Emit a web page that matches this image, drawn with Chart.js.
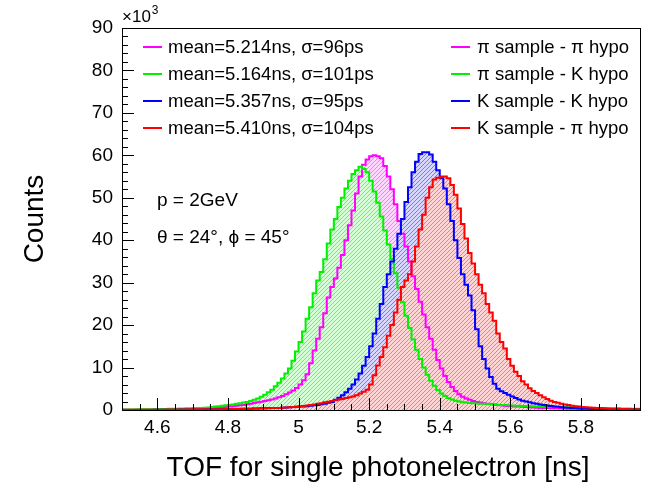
<!DOCTYPE html>
<html>
<head>
<meta charset="utf-8">
<script src="https://cdn.jsdelivr.net/npm/chart.js@4.4.0/dist/chart.umd.min.js"></script>
<style>
  html, body { margin: 0; padding: 0; background: #fff; }
</style>
</head>
<body>
<canvas id="tofChart" width="649" height="496"></canvas>
<script>
// histogram: 0.01 ns bins starting at 4.50 ns, counts in units of 10^3
const binStart = 4.5;
const binWidth = 0.01;
const xMax = 5.97;

const xTicks = [4.6, 4.8, 5.0, 5.2, 5.4, 5.6, 5.8];

const piPiHypo = [
  0.05,0.05,0.05,0.05,0.05,0.1,0.1,0.1,0.1,0.1,
  0.1,0.1,0.15,0.15,0.15,0.15,0.2,0.2,0.2,0.25,
  0.25,0.3,0.3,0.35,0.4,0.45,0.5,0.55,0.6,0.7,
  0.8,0.9,1.0,1.1,1.2,1.35,1.5,1.65,1.8,1.95,
  2.1,2.3,2.5,2.7,3.0,3.3,3.7,4.1,4.6,5.2,
  6.0,7.0,8.4,11.0,14.0,16.8,19.5,22.8,26.5,29.0,
  31.0,33.5,36.5,40.0,43.5,47.0,51.0,55.0,57.8,59.0,
  59.8,60.0,59.8,59.3,57.5,55.0,52.0,48.5,44.5,41.5,
  38.5,35.0,31.5,28.5,25.5,22.5,19.5,16.8,14.2,11.8,
  9.8,8.0,6.6,5.4,4.5,3.7,3.1,2.7,2.4,2.1,
  1.9,1.75,1.6,1.5,1.4,1.3,1.2,1.1,1.0,0.95,
  0.9,0.85,0.8,0.75,0.7,0.65,0.6,0.55,0.5,0.5,
  0.45,0.45,0.4,0.4,0.35,0.35,0.3,0.3,0.3,0.25,
  0.25,0.25,0.2,0.2,0.2,0.2,0.15,0.15,0.15,0.15,
  0.1,0.1,0.1,0.1,0.1,0.1,0.1
];

const piKHypo = [
  0.1,0.1,0.1,0.1,0.15,0.15,0.15,0.2,0.2,0.2,
  0.2,0.25,0.25,0.3,0.3,0.3,0.35,0.35,0.4,0.4,
  0.45,0.5,0.5,0.55,0.6,0.7,0.8,0.9,1.0,1.1,
  1.2,1.3,1.45,1.6,1.75,1.9,2.1,2.4,2.7,3.1,
  3.6,4.2,4.8,5.6,6.4,7.4,8.6,9.8,11.6,13.8,
  16.0,18.5,21.5,24.2,27.5,30.5,32.5,35.5,39.2,42.5,
  45.0,47.8,50.0,52.2,54.0,55.6,56.5,57.3,56.8,56.0,
  54.0,51.5,48.8,45.6,42.3,39.0,35.6,32.2,28.8,25.4,
  22.2,19.3,16.6,14.2,12.0,10.0,8.3,6.9,5.7,4.7,
  3.9,3.3,2.8,2.45,2.2,2.0,1.85,1.75,1.65,1.6,
  1.55,1.5,1.45,1.4,1.35,1.3,1.25,1.2,1.15,1.1,
  1.05,1.0,1.0,0.95,0.95,0.9,0.9,0.85,0.85,0.8,
  0.8,0.75,0.75,0.7,0.7,0.65,0.65,0.6,0.6,0.55,
  0.55,0.5,0.5,0.5,0.45,0.45,0.45,0.4,0.4,0.4,
  0.4,0.35,0.35,0.35,0.3,0.3,0.3
];

const kKHypo = [
  0,0,0,0,0,0,0,0,0,0.05,
  0.05,0.05,0.05,0.05,0.05,0.05,0.1,0.1,0.1,0.1,
  0.1,0.1,0.1,0.15,0.15,0.15,0.15,0.2,0.2,0.2,
  0.2,0.25,0.25,0.25,0.3,0.3,0.3,0.35,0.35,0.4,
  0.4,0.45,0.45,0.5,0.5,0.55,0.6,0.65,0.7,0.75,
  0.8,0.85,0.9,1.0,1.1,1.2,1.35,1.5,1.7,1.9,
  2.4,2.9,3.5,4.2,5.0,6.0,7.2,8.6,10.4,12.5,
  15.0,18.0,21.5,25.0,29.0,32.0,35.0,38.0,41.5,45.0,
  49.0,52.5,56.0,58.5,60.3,60.7,60.7,60.2,58.5,56.5,
  54.6,52.2,48.5,44.5,40.0,35.8,32.0,29.5,27.0,23.5,
  19.0,15.0,12.0,9.8,7.8,6.2,5.0,4.4,4.0,3.6,
  3.2,2.8,2.5,2.2,2.0,1.8,1.6,1.45,1.3,1.2,
  1.05,0.95,0.85,0.75,0.65,0.6,0.55,0.5,0.45,0.4,
  0.38,0.35,0.32,0.3,0.28,0.26,0.24,0.22,0.2,0.2,
  0.18,0.17,0.16,0.15,0.14,0.13,0.12
];

const kPiHypo = [
  0.05,0.05,0.05,0.05,0.05,0.05,0.05,0.05,0.05,0.05,
  0.05,0.05,0.1,0.1,0.1,0.1,0.1,0.1,0.1,0.15,
  0.15,0.15,0.15,0.15,0.2,0.2,0.2,0.2,0.2,0.25,
  0.25,0.25,0.25,0.3,0.3,0.3,0.3,0.35,0.35,0.35,
  0.4,0.4,0.45,0.45,0.5,0.55,0.6,0.65,0.7,0.75,
  0.85,0.95,1.05,1.15,1.3,1.45,1.6,1.8,1.95,2.1,
  2.3,2.45,2.6,2.8,3.0,3.2,3.5,3.9,4.3,4.8,
  6.0,8.2,10.5,12.5,14.8,17.5,20.0,23.0,26.0,29.0,
  30.5,32.0,35.0,38.5,42.5,46.0,50.0,52.5,54.3,54.7,
  55.0,55.0,54.6,53.0,50.7,47.5,43.8,40.4,37.0,34.5,
  32.0,29.5,27.5,25.0,23.0,21.0,18.0,16.0,14.5,12.0,
  10.4,9.0,8.0,6.8,6.0,5.1,4.5,4.0,3.5,3.0,
  2.6,2.2,1.9,1.7,1.5,1.3,1.15,1.0,0.9,0.8,
  0.7,0.65,0.6,0.55,0.5,0.45,0.4,0.35,0.32,0.3,
  0.27,0.25,0.22,0.2,0.18,0.16,0.15
];

const seriesNames = ["\u03c0 sample - \u03c0 hypo", "\u03c0 sample - K hypo", "K sample - K hypo", "K sample - \u03c0 hypo"];
const statLabels = ["mean=5.214ns, \u03c3=96ps", "mean=5.164ns, \u03c3=101ps", "mean=5.357ns, \u03c3=95ps", "mean=5.410ns, \u03c3=104ps"];
const seriesColors = ['#ff00ff', '#00f000', '#0000ff', '#ff0000'];
const hatchColors = ['rgb(255,120,255)', 'rgb(110,240,110)', 'rgb(120,120,255)', 'rgb(255,120,120)'];
const tintColors = ['rgb(255,214,255)', 'rgb(212,255,212)', 'rgb(214,214,255)', 'rgb(255,212,212)'];
const seriesValues = [piPiHypo, piKHypo, kKHypo, kPiHypo];

const FONT = '"Liberation Sans", Arial, Helvetica, sans-serif';

document.addEventListener("DOMContentLoaded", () => {
  const canvas = document.getElementById('tofChart');
  const ctx = canvas.getContext('2d');

  // ROOT-like hatch: light tint with diagonal dashes
  function hatch(i) {
    const c = document.createElement('canvas');
    c.width = 4; c.height = 4;
    const h = c.getContext('2d');
    h.fillStyle = tintColors[i];
    h.fillRect(0, 0, 4, 4);
    h.fillStyle = hatchColors[i];
    for (let k = 0; k < 4; k++) h.fillRect(k, 3 - k, 1, 1);
    return ctx.createPattern(c, 'repeat');
  }

  // bin edges -> step points (value held over [edge, next edge])
  function toSteps(values) {
    const pts = values.map((v, i) => ({ x: binStart + i * binWidth, y: v }));
    pts.push({ x: xMax, y: values[values.length - 1] });
    return pts;
  }

  const fillSets = seriesValues.map((vals, i) => ({
    label: seriesNames[i] + ' fill',
    data: toSteps(vals),
    stepped: true,
    borderWidth: 0,
    borderColor: 'rgba(0,0,0,0)',
    backgroundColor: hatch(i),
    fill: 'origin',
    pointRadius: 0,
    order: 7 - i
  }));
  const lineSets = seriesValues.map((vals, i) => ({
    label: seriesNames[i],
    data: toSteps(vals),
    stepped: true,
    borderColor: seriesColors[i],
    borderWidth: 2,
    fill: false,
    pointRadius: 0,
    order: 3 - i
  }));

  const rootStyle = {
    id: 'rootStyle',
    afterDraw(chart) {
      const c = chart.ctx;
      const area = chart.chartArea;
      const xs = chart.scales.x, ys = chart.scales.y;
      c.save();
      c.strokeStyle = '#000';
      c.lineWidth = 1;
      c.strokeRect(area.left + 0.5, area.top + 0.5, area.right - area.left - 1, area.bottom - area.top);

      // ticks inside the frame
      c.beginPath();
      for (let v = 0; v <= 90.001; v += 2) {
        const y = Math.round(ys.getPixelForValue(v)) + 0.5;
        const len = Math.abs(v % 10) < 0.01 ? 12 : 6;
        c.moveTo(area.left, y); c.lineTo(area.left + len, y);
      }
      for (let k = 0; k * 0.05 + 4.5 <= xMax + 1e-6; k++) {
        const v = 4.5 + k * 0.05;
        const x = Math.round(xs.getPixelForValue(v)) + 0.5;
        const major = xTicks.some(t => Math.abs(t - v) < 1e-6);
        c.moveTo(x, area.bottom); c.lineTo(x, area.bottom - (major ? 12 : 6));
      }
      c.stroke();

      c.fillStyle = '#000';
      c.textBaseline = 'alphabetic';
      c.textAlign = 'left';
      // exponent
      c.font = `17px ${FONT}`;
      c.fillText('\u00d710', area.left, 22);
      const w = c.measureText('\u00d710').width;
      c.font = `12px ${FONT}`;
      c.fillText('3', area.left + w + 1, 14);

      // axis titles
      c.font = `28px ${FONT}`;
      c.textAlign = 'center';
      c.textBaseline = 'middle';
      c.fillText('TOF for single photonelectron [ns]', 378, 468);
      c.save();
      c.translate(35, 219);
      c.rotate(-Math.PI / 2);
      c.fillText('Counts', 0, 0);
      c.restore();

      // annotations
      c.textAlign = 'left';
      c.font = `19px ${FONT}`;
      c.fillText('p = 2GeV', 157, 201);
      c.fillText('\u03b8 = 24\u00b0, \u03d5 = 45\u00b0', 157, 238);

      // legend
      c.font = `18.5px ${FONT}`;
      const rows = [47, 74, 101, 128];
      rows.forEach((y, i) => {
        c.strokeStyle = seriesColors[i];
        c.lineWidth = 2;
        c.beginPath();
        c.moveTo(143, y); c.lineTo(162, y);
        c.moveTo(451, y); c.lineTo(470, y);
        c.stroke();
        c.fillStyle = '#000';
        c.fillText(statLabels[i], 168, y + 1);
        c.fillText(seriesNames[i], 477, y + 1);
      });
      c.restore();
    }
  };

  new Chart(ctx, {
    type: 'line',
    data: { datasets: fillSets.concat(lineSets) },
    options: {
      responsive: false,
      animation: false,
      devicePixelRatio: 1,
      layout: { padding: { top: 28, right: 8, left: 0, bottom: 0 } },
      plugins: {
        legend: { display: false },
        tooltip: { enabled: false }
      },
      scales: {
        x: {
          type: 'linear',
          min: binStart,
          max: xMax,
          afterFit: (s) => { s.height = 86; },
          afterBuildTicks: (s) => { s.ticks = xTicks.map(v => ({ value: v })); },
          grid: { display: false, drawTicks: false },
          border: { display: false },
          ticks: {
            padding: 6,
            color: '#000',
            autoSkip: false,
            maxRotation: 0,
            font: { family: FONT, size: 19 },
            callback: (v) => String(Math.round(v * 10) / 10)
          }
        },
        y: {
          min: 0,
          max: 90,
          afterFit: (s) => { s.width = 122; },
          grid: { display: false, drawTicks: false },
          border: { display: false },
          ticks: {
            stepSize: 10,
            padding: 9,
            color: '#000',
            font: { family: FONT, size: 19 }
          }
        }
      }
    },
    plugins: [rootStyle]
  });
});
</script>
</body>
</html>
